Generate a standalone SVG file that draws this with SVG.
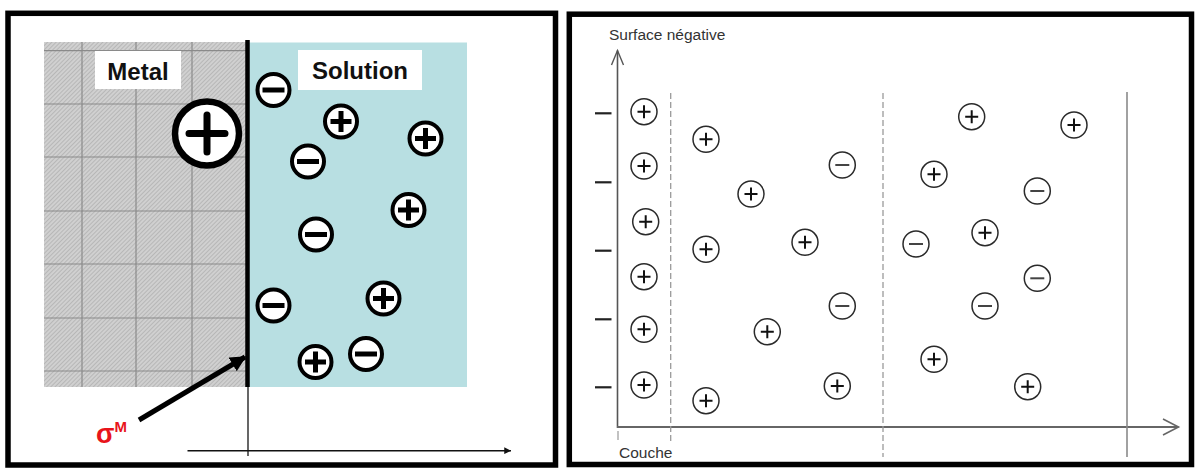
<svg xmlns="http://www.w3.org/2000/svg" width="1196" height="468" viewBox="0 0 1196 468">
<style>
.frame{fill:none;stroke:#000;stroke-width:5.5}
.lbl{font-family:"Liberation Sans",Arial,sans-serif;font-weight:bold;font-size:24px;fill:#111}
.grid{stroke:#8a8a8a;stroke-width:1.2}
.ionL{fill:#fff;stroke:#000;stroke-width:4}
.barL{stroke:#000;stroke-width:5}
.ionR{fill:#fff;stroke:#2a2a2a;stroke-width:1.5}
.barR{stroke:#111;stroke-width:2}
.barRm{stroke:#444;stroke-width:2}
.txtR{font-family:"Liberation Sans",Arial,sans-serif;font-size:15.5px;fill:#333}
.dash{stroke:#9a9a9a;stroke-width:1.3;stroke-dasharray:6 3}
.tick{stroke:#222;stroke-width:2.2}
</style>
<defs>
<pattern id="hatch" width="3" height="3" patternUnits="userSpaceOnUse" patternTransform="rotate(45)">
<rect width="3" height="3" fill="#d0d0d0"/>
<line x1="0" y1="0" x2="0" y2="3" stroke="#a6a6a6" stroke-width="1.2"/>
</pattern>
<g id="pL"><circle r="16" class="ionL"/><path d="M-10.5,0H10.5M0,-10.5V10.5" class="barL"/></g>
<g id="mL"><circle r="16" class="ionL"/><path d="M-11,0H11" class="barL"/></g>
<g id="pR"><circle r="13" class="ionR"/><path d="M-6.5,0H6.5M0,-6.5V6.5" class="barR"/></g>
<g id="mR"><circle r="13" class="ionR"/><path d="M-7,0H7" class="barRm"/></g>
<marker id="ah" viewBox="0 0 10 10" refX="9" refY="5" markerWidth="3.2" markerHeight="3.2" orient="auto" markerUnits="strokeWidth"><path d="M0,0L10,5L0,10z" fill="#000"/></marker>
<marker id="ah2" viewBox="0 0 10 10" refX="10" refY="5" markerWidth="6" markerHeight="4.5" orient="auto" markerUnits="strokeWidth"><path d="M0,0L10,5L0,10z" fill="#111"/></marker>
</defs>

<!-- Left panel -->
<g id="left-panel">
<rect x="8" y="13.3" width="547.5" height="451.7" fill="#fff" class="frame"/>
<g id="metal">
<rect x="44" y="42" width="204" height="345" fill="url(#hatch)"/>
<g class="grid">
<line x1="44" y1="50.7" x2="246" y2="50.7"/>
<line x1="44" y1="104" x2="246" y2="104"/>
<line x1="44" y1="157" x2="246" y2="157"/>
<line x1="44" y1="211" x2="246" y2="211"/>
<line x1="44" y1="264" x2="246" y2="264"/>
<line x1="44" y1="318" x2="246" y2="318"/>
<line x1="44" y1="371" x2="246" y2="371"/>
<line x1="82" y1="42" x2="82" y2="387"/>
<line x1="136" y1="42" x2="136" y2="387"/>
<line x1="192" y1="42" x2="192" y2="387"/>
</g>
<rect x="95" y="51" width="86" height="38" fill="#fff"/>
<text x="138" y="79.5" text-anchor="middle" class="lbl">Metal</text>
</g>
<g id="solution">
<rect x="248" y="42.5" width="219" height="344.5" fill="#b8dfe2"/>
<rect x="298" y="50" width="124" height="40" fill="#fff"/>
<text x="360" y="79" text-anchor="middle" class="lbl">Solution</text>
</g>
<g id="interface">
<line x1="247.5" y1="40" x2="247.5" y2="387" stroke="#000" stroke-width="4.5"/>
<line x1="248" y1="387" x2="248" y2="456" stroke="#000" stroke-width="1.2"/>
</g>
<g id="big-plus">
<circle cx="207" cy="133.5" r="32" fill="#fff" stroke="#000" stroke-width="6.5"/>
<path d="M189,133.5H225M207,115V152" stroke="#000" stroke-width="7" stroke-linecap="round"/>
</g>
<g id="ions-left">
<use href="#mL" x="273.5" y="90"/>
<use href="#pL" x="341" y="121.5"/>
<use href="#pL" x="425.5" y="138.5"/>
<use href="#mL" x="308" y="161.5"/>
<use href="#pL" x="408.5" y="210"/>
<use href="#mL" x="316" y="234.5"/>
<use href="#mL" x="273.5" y="305.5"/>
<use href="#pL" x="383.5" y="298.5"/>
<use href="#mL" x="366" y="354"/>
<use href="#pL" x="315.5" y="362"/>
</g>
<g id="connectors-left">
<line x1="139" y1="420" x2="245" y2="357" stroke="#000" stroke-width="5" marker-end="url(#ah)"/>
<line x1="187.5" y1="450.7" x2="511" y2="450.7" stroke="#111" stroke-width="1.5" marker-end="url(#ah2)"/>
</g>
<g id="sigma">
<text x="96" y="443" font-family="'Liberation Sans',Arial,sans-serif" font-weight="bold" font-size="27" fill="#e8141b">σ<tspan dy="-11" font-size="15">M</tspan></text>
</g>
</g>

<!-- Right panel -->
<g id="right-panel">
<rect x="569.3" y="14.2" width="622.2" height="450.3" fill="#fff" class="frame" stroke-width="5.3"/>
<g id="axes">
<line x1="617.5" y1="50.5" x2="617.5" y2="428" stroke="#555" stroke-width="1.6"/>
<path d="M611.5,65L617.5,50.5L623.5,65" fill="none" stroke="#555" stroke-width="1.4"/>
<line x1="617" y1="427" x2="1178.5" y2="427" stroke="#666" stroke-width="2"/>
<path d="M1163,419L1178.5,427L1163,435" fill="none" stroke="#666" stroke-width="1.6"/>
<line x1="670.7" y1="93" x2="670.7" y2="441" class="dash"/>
<line x1="883" y1="93" x2="883" y2="457" class="dash"/>
<line x1="1127" y1="92" x2="1127" y2="457" stroke="#8a8a8a" stroke-width="1.6"/>
<line x1="618" y1="431" x2="618" y2="440" stroke="#999" stroke-width="1.2"/>
</g>
<g id="surface-charges">
<line x1="595" y1="113.3" x2="611.5" y2="113.3" class="tick"/>
<line x1="595" y1="182.3" x2="611.5" y2="182.3" class="tick"/>
<line x1="595" y1="250.7" x2="611.5" y2="250.7" class="tick"/>
<line x1="595" y1="319.3" x2="611.5" y2="319.3" class="tick"/>
<line x1="595" y1="387.3" x2="611.5" y2="387.3" class="tick"/>
</g>
<text x="609" y="40" class="txtR">Surface négative</text>
<text x="619" y="458" class="txtR">Couche</text>
<g id="ions-right">
<use href="#pR" x="644" y="111.7"/>
<use href="#pR" x="644" y="166"/>
<use href="#pR" x="645.7" y="221.7"/>
<use href="#pR" x="644" y="276.7"/>
<use href="#pR" x="644" y="329.3"/>
<use href="#pR" x="644" y="385"/>
<use href="#pR" x="706" y="139.3"/>
<use href="#mR" x="842.3" y="165"/>
<use href="#pR" x="751" y="194"/>
<use href="#pR" x="706" y="249.3"/>
<use href="#pR" x="805" y="242.3"/>
<use href="#mR" x="842.3" y="306"/>
<use href="#pR" x="767.3" y="331.7"/>
<use href="#pR" x="706" y="400.7"/>
<use href="#pR" x="837.3" y="386"/>
<use href="#pR" x="971.7" y="116.7"/>
<use href="#pR" x="1074" y="125"/>
<use href="#pR" x="934" y="174.3"/>
<use href="#mR" x="1037.3" y="191"/>
<use href="#mR" x="916" y="244"/>
<use href="#pR" x="985" y="232.7"/>
<use href="#mR" x="1037.3" y="278.3"/>
<use href="#mR" x="985" y="306"/>
<use href="#pR" x="934" y="359.3"/>
<use href="#pR" x="1027.7" y="386.7"/>
</g>
</g>
</svg>
